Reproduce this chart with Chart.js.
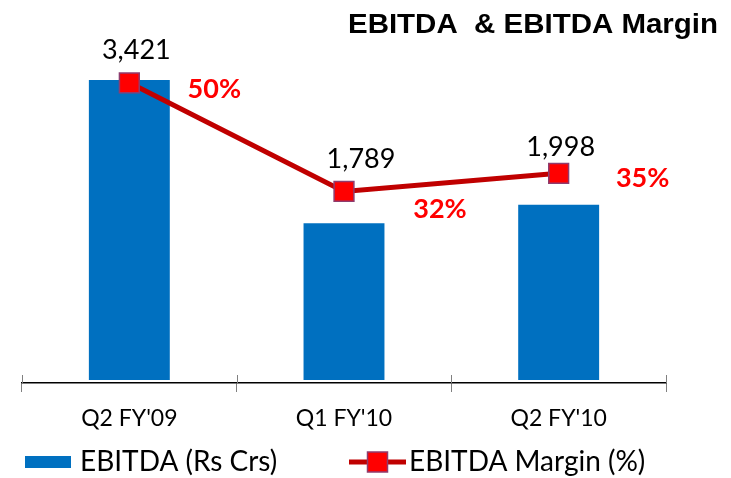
<!DOCTYPE html>
<html><head><meta charset="utf-8">
<script src="https://cdn.jsdelivr.net/npm/chart.js@4.4.1/dist/chart.umd.min.js"></script>
<style>html,body{margin:0;padding:0;background:#fff;overflow:hidden}canvas{display:block}</style>
</head><body>
<canvas id="c" width="731" height="478"></canvas>
<script>
// ---- data ----
const categories = ["Q2 FY'09", "Q1 FY'10", "Q2 FY'10"];
const ebitda = [3421, 1789, 1998];
const margin = [50, 32, 35];
const ebitdaLabels = ["3,421", "1,789", "1,998"];
const marginLabels = ["50%", "32%", "35%"];
const seriesNames = ["EBITDA (Rs Crs)", "EBITDA Margin (%)"];
const chartTitle = "EBITDA  & EBITDA Margin";

// ---- styles ----
const BAR_BLUE = '#0070C0';
const LINE_RED = '#C00000';
const MARK_RED = '#FF0000';
const MARK_EDGE = '#8E3C6E';
const FONT = 'Lato, "Open Sans", sans-serif';

// label placement relative to each margin point (layout only)
const valueOffsets = [[7, -24], [17, -23], [2, -17]];
const pctOffsets = [[85, 15], [96, 27], [84, 14]];

const decor = {
  id: 'decor',
  afterDatasetsDraw(chart) {
    const ctx = chart.ctx;
    const lineMeta = chart.getDatasetMeta(1);
    ctx.save();
    ctx.textAlign = 'center';
    ctx.textBaseline = 'alphabetic';
    lineMeta.data.forEach((pt, i) => {
      ctx.fillStyle = '#000';
      ctx.font = '27px ' + FONT;
      ctx.fillText(ebitdaLabels[i], pt.x + valueOffsets[i][0], pt.y + valueOffsets[i][1]);
      ctx.fillStyle = '#FF0000';
      ctx.font = 'bold 27px ' + FONT;
      ctx.fillText(marginLabels[i], pt.x + pctOffsets[i][0], pt.y + pctOffsets[i][1]);
    });
    ctx.restore();
  },
  afterDraw(chart) {
    const ctx = chart.ctx;
    const a = chart.chartArea;
    ctx.save();
    // upper halves of the category tick marks
    ctx.strokeStyle = '#808080';
    ctx.lineWidth = 1;
    const n = categories.length;
    for (let i = 0; i <= n; i++) {
      const x = Math.round(a.left + (a.right - a.left) * i / n) + 0.5;
      ctx.beginPath();
      ctx.moveTo(x, a.bottom - 8);
      ctx.lineTo(x, a.bottom);
      ctx.stroke();
    }
    // title
    ctx.fillStyle = '#000';
    ctx.font = 'bold 28px "Liberation Sans", Arial, sans-serif';
    ctx.textBaseline = 'alphabetic';
    ctx.textAlign = 'left';
    const tw = ctx.measureText(chartTitle).width;
    const sx = 370 / tw;
    ctx.save();
    ctx.translate(348, 33);
    ctx.scale(sx, 1);
    ctx.fillText(chartTitle, 0, 0);
    ctx.restore();
    // legend
    const ly = 462;
    ctx.fillStyle = BAR_BLUE;
    ctx.fillRect(25, ly - 6, 46, 12);
    ctx.fillStyle = '#000';
    ctx.font = '28px ' + FONT;
    ctx.fillText(seriesNames[0], 80, ly + 9);
    ctx.strokeStyle = LINE_RED;
    ctx.lineWidth = 5;
    ctx.beginPath();
    ctx.moveTo(349, ly);
    ctx.lineTo(406, ly);
    ctx.stroke();
    ctx.fillStyle = MARK_RED;
    ctx.fillRect(367.5, ly - 10, 20, 20);
    ctx.strokeStyle = MARK_EDGE;
    ctx.lineWidth = 1.5;
    ctx.strokeRect(367.5, ly - 10, 20, 20);
    ctx.fillStyle = '#000';
    ctx.fillText(seriesNames[1], 409, ly + 9);
    ctx.restore();
  }
};

new Chart(document.getElementById('c'), {
  data: {
    labels: categories,
    datasets: [
      {
        type: 'bar',
        label: seriesNames[0],
        data: ebitda,
        backgroundColor: BAR_BLUE,
        borderWidth: 0,
        barPercentage: 0.377,
        categoryPercentage: 1.0,
        yAxisID: 'y',
        order: 2
      },
      {
        type: 'line',
        label: seriesNames[1],
        data: margin,
        borderColor: LINE_RED,
        borderWidth: 5,
        tension: 0,
        fill: false,
        pointStyle: 'rect',
        pointRadius: 14,
        pointBackgroundColor: MARK_RED,
        pointBorderColor: MARK_EDGE,
        pointBorderWidth: 1.5,
        yAxisID: 'y1',
        order: 1
      }
    ]
  },
  options: {
    responsive: false,
    animation: false,
    devicePixelRatio: 1,
    layout: { padding: { left: 22, right: 65, top: 40, bottom: 0 } },
    plugins: { legend: { display: false }, title: { display: false }, tooltip: { enabled: false } },
    scales: {
      x: {
        offset: true,
        grid: { display: true, drawOnChartArea: false, drawTicks: true, tickLength: 9, color: '#808080', offset: true },
        border: { display: true, color: '#000', width: 1.5 },
        ticks: { color: '#000', font: { family: FONT, size: 23 }, padding: 13 },
        afterFit(axis) { axis.height = 95; }
      },
      y: { display: false, min: -34, max: 3878 },
      y1: { display: false, min: 0.23, max: 57.1, position: 'right' }
    }
  },
  plugins: [decor]
});
</script>
</body></html>
